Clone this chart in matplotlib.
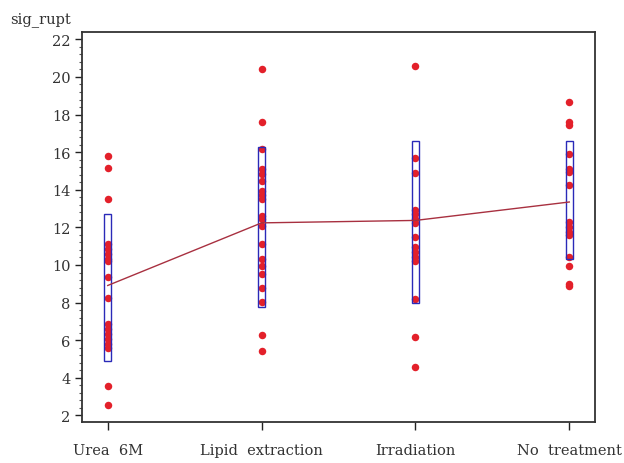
import matplotlib
matplotlib.use("Agg")
import matplotlib.pyplot as plt
from matplotlib.ticker import MultipleLocator
from matplotlib.patches import Rectangle

categories = ["Urea  6M", "Lipid  extraction", "Irradiation", "No  treatment"]

urea = [15.79, 15.15, 13.50, 11.11, 10.86, 10.60, 10.33, 10.21, 9.36, 8.26,
        6.88, 6.61, 6.35, 6.08, 5.81, 5.60, 3.59, 2.53]
lipid = [20.43, 17.63, 16.18, 15.08, 14.85, 14.49, 13.96, 13.73, 13.52, 12.60,
         12.46, 12.10, 11.13, 10.33, 9.97, 9.53, 8.77, 8.03, 6.25, 5.40]
irradiation = [20.57, 15.68, 14.90, 12.90, 12.69, 12.46, 12.24, 11.48, 10.95,
               10.69, 10.42, 10.19, 8.20, 6.17, 4.57]
no_treatment = [18.69, 17.60, 17.45, 15.91, 15.12, 14.94, 14.23, 12.28, 12.02,
                11.75, 11.57, 10.42, 9.97, 9.00, 8.88]

means = [8.91, 12.24, 12.37, 13.35]
box_low = [4.92, 7.76, 7.99, 10.33]
box_high = [12.72, 16.27, 16.62, 16.57]

series = [urea, lipid, irradiation, no_treatment]

font = "DejaVu Serif"
fs = 10.5
tcol = "#333333"
fig = plt.figure(figsize=(6.24, 4.64), dpi=100)
ax = fig.add_axes([0.131, 0.0884, 0.8225, 0.840])

xs = list(range(1, len(categories) + 1))
red = "#e3202a"
blue = "#2a2ab8"
bw = 0.044

for x, lo, hi in zip(xs, box_low, box_high):
    ax.add_patch(Rectangle((x - bw / 2, lo), bw, hi - lo, facecolor="white",
                           edgecolor="none", zorder=2))
for x, vals in zip(xs, series):
    ax.plot([x] * len(vals), vals, "o", color=red, markersize=5.4,
            markeredgewidth=0, zorder=3)
for x, lo, hi in zip(xs, box_low, box_high):
    ax.add_patch(Rectangle((x - bw / 2, lo), bw, hi - lo, facecolor="none",
                           edgecolor=blue, linewidth=1.0, zorder=4))
ax.plot(xs, means, color="#a83040", linewidth=1.0, zorder=5)

ax.set_xlim(0.831, 4.167)
ax.set_ylim(1.65, 22.38)
ax.set_xticks(xs)
ax.set_xticklabels(categories, fontfamily=font, fontsize=fs, color=tcol)
ax.yaxis.set_major_locator(MultipleLocator(2))
ax.yaxis.set_minor_locator(MultipleLocator(0.4))
ax.set_yticks(range(2, 23, 2))
for lab in ax.get_yticklabels():
    lab.set_fontfamily(font)
    lab.set_fontsize(fs)
    lab.set_color(tcol)
ax.tick_params(axis="x", direction="out", length=6, width=1, pad=9, colors="#222222", labelcolor=tcol)
ax.tick_params(axis="y", which="major", direction="out", length=5, width=1, pad=3, colors="#222222", labelcolor=tcol)
ax.tick_params(axis="y", which="minor", direction="out", length=2.5, width=0.8, colors="#555555")
for s in ax.spines.values():
    s.set_linewidth(1.3)
    s.set_color("#333333")

fig.text(0.016, 0.958, "sig_rupt", fontfamily=font, fontsize=fs, ha="left",
         va="center", color=tcol)

fig.savefig("out.png", dpi=100)
